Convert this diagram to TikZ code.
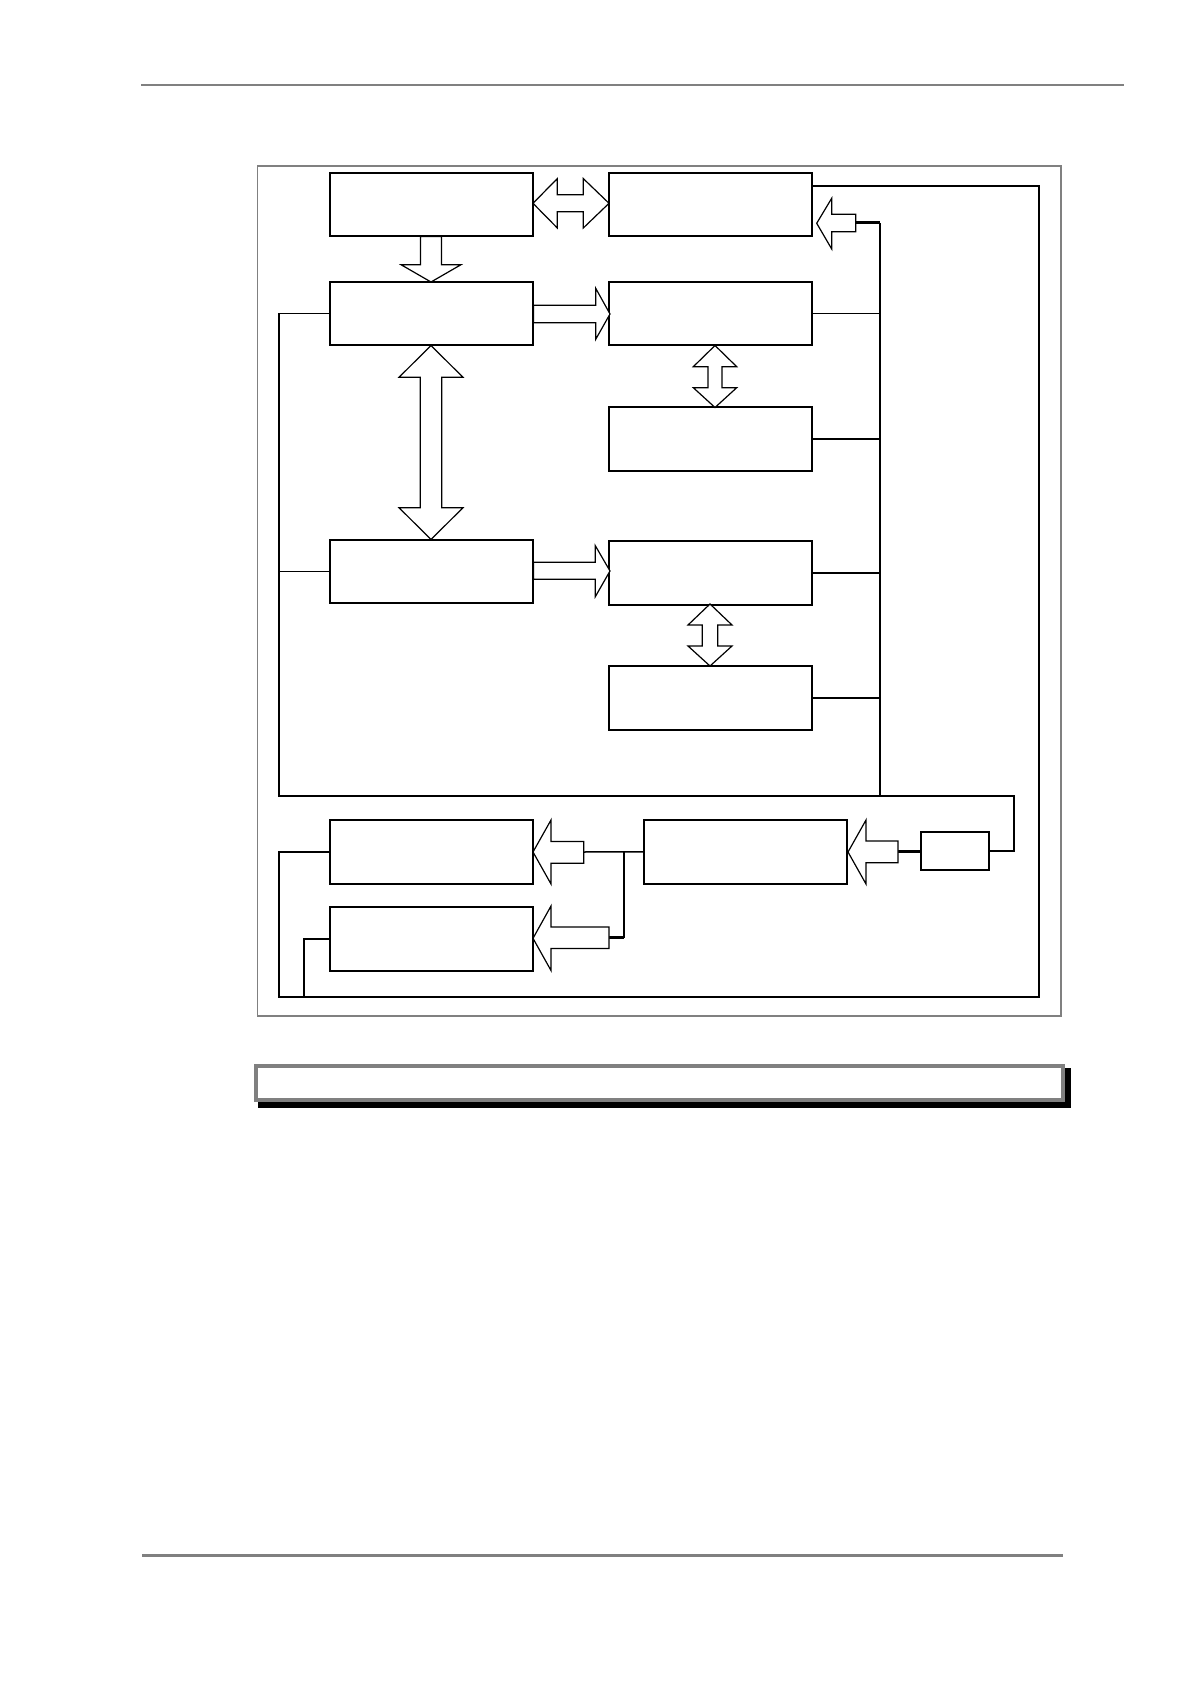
\documentclass[tikz,border=0pt]{standalone}
\usepackage{amsmath}
\usepackage{amssymb}
\usepackage{tikz}

\definecolor{rulegray}{RGB}{128,128,128}

\tikzset{
  blk/.style={draw, line width=1pt, minimum width=101.5pt, minimum height=31.75pt, inner sep=0pt, outer sep=0pt, anchor=north west},
  smallblk/.style={draw, line width=1pt, minimum width=34pt, minimum height=19pt, inner sep=0pt, outer sep=0pt, anchor=north west},
  wire/.style={line width=0.75pt},
  thickwire/.style={line width=1.5pt},
  barrow/.style={draw, fill=white, line width=0.6pt, line join=miter}
}

\begin{document}
\begin{tikzpicture}[x=0.5pt,y=0.5pt,yscale=-1,xscale=1]
\useasboundingbox (0,0) rectangle (1191,1684);

%Header and footer rules
\draw[rulegray, line width=1.35pt] (141,85) -- (1124,85) ;
\draw[rulegray, line width=1.35pt] (142,1555.5) -- (1063,1555.5) ;

%Frame
\draw[rulegray, line width=0.6pt] (257.4,166) rectangle (1061,1016) ;

%Blocks
\node[blk] (A) at (330,173) {};
\node[blk] (B) at (609,173) {};
\node[blk] (C) at (330,282) {};
\node[blk] (D) at (609,282) {};
\node[blk] (E) at (609,407.5) {};
\node[blk] (F) at (330,539.5) {};
\node[blk] (G) at (609,541) {};
\node[blk] (H) at (609,666) {};
\node[blk] (I) at (330,820) {};
\node[blk] (J) at (330,907) {};
\node[blk] (K) at (644,820) {};
\node[smallblk] (L) at (921,832) {};

%Bus corners
\coordinate (rtop) at (1039,186);
\coordinate (rbot) at (1039,997);
\coordinate (lbot) at (279,997);
\coordinate (jbot) at (304,997);
\coordinate (lcor) at (279,796);
\coordinate (rcor) at (1014,796);
\coordinate (rb) at (880,796);
\coordinate (rbtop) at (880,223);
\coordinate (bin) at (855.7,223);
\coordinate (kin) at (898,851);
\coordinate (iin) at (583.7,852);
\coordinate (split) at (624,852);
\coordinate (jin) at (609,937.5);

%Straight Lines
\draw[wire] (B.east |- rtop) -- (rtop) -- (rbot) -- (lbot) |- (I.west) ;
%Straight Lines
\draw[wire] (J.west) -| (jbot) ;
%Straight Lines
\draw[wire] (C.west) -| (lcor) -- (rcor) |- (L.east) ;
%Straight Lines
\draw[wire] (F.west) -- (F.west -| lcor) ;
%Straight Lines
\draw[wire] (rbtop) -- (rb) ;
\draw[wire] (D.east) -- (D.east -| rb) ;
\draw[wire] (E.east) -- (E.east -| rb) ;
\draw[wire] (G.east) -- (G.east -| rb) ;
\draw[wire] (H.east) -- (H.east -| rb) ;
%Straight Lines
\draw[thickwire] (bin) -- (rbtop) ;
\draw[thickwire] (kin) -- (L.west) ;
\draw[wire] (iin) -- (K.west) ;
\draw[wire] (split) -- (split |- jin) ;
\draw[thickwire] (jin) -- (split |- jin) ;

%Shape: Left Right Arrow
\draw[barrow] (533,203.3) -- (557.3,178.6) -- (557.3,194.8) -- (583.3,194.8) -- (583.3,178.6) -- (609,203.3) -- (583.3,228) -- (583.3,211.8) -- (557.3,211.8) -- (557.3,228) -- cycle ;
%Shape: Down Arrow
\draw[barrow] (420.5,236.5) -- (441.5,236.5) -- (441.5,264.7) -- (461,264.7) -- (431,282) -- (401,264.7) -- (420.5,264.7) -- cycle ;
%Shape: Right Arrow
\draw[barrow] (533.5,305.3) -- (595.7,305.3) -- (595.7,288.3) -- (610,314) -- (595.7,339.3) -- (595.7,322.7) -- (533.5,322.7) -- cycle ;
%Shape: Up Down Arrow
\draw[barrow] (431,345.5) -- (463,377.3) -- (441.7,377.3) -- (441.7,507.7) -- (463,507.7) -- (431,539.5) -- (399,507.7) -- (420.3,507.7) -- (420.3,377.3) -- (399,377.3) -- cycle ;
%Shape: Up Down Arrow
\draw[barrow] (715,345.5) -- (736.7,366.7) -- (722,366.7) -- (722,387.7) -- (736.7,387.7) -- (715,407.5) -- (693.3,387.7) -- (708,387.7) -- (708,366.7) -- (693.3,366.7) -- cycle ;
%Shape: Right Arrow
\draw[barrow] (533.5,562.3) -- (595.3,562.3) -- (595.3,545.7) -- (610,571) -- (595.3,596.7) -- (595.3,579.3) -- (533.5,579.3) -- cycle ;
%Shape: Up Down Arrow
\draw[barrow] (710,604) -- (732,625) -- (717.7,625) -- (717.7,646) -- (732,646) -- (710,666) -- (688,646) -- (702.3,646) -- (702.3,625) -- (688,625) -- cycle ;
%Shape: Left Arrow
\draw[barrow] (816.7,223.3) -- (831.7,198.3) -- (831.7,214.3) -- (855.7,214.3) -- (855.7,231.7) -- (831.7,231.7) -- (831.7,249) -- cycle ;
%Shape: Left Arrow
\draw[barrow] (848,852) -- (866,820) -- (866,841) -- (898,841) -- (898,862.7) -- (866,862.7) -- (866,884) -- cycle ;
%Shape: Left Arrow
\draw[barrow] (533,852) -- (551,820) -- (551,841.5) -- (583.7,841.5) -- (583.7,863.3) -- (551,863.3) -- (551,884) -- cycle ;
%Shape: Left Arrow
\draw[barrow] (533,938.3) -- (551,906) -- (551,927) -- (609,927) -- (609,948.5) -- (551,948.5) -- (551,970.5) -- cycle ;

%Caption box
\fill[black] (258,1068) rectangle (1070.7,1107.7) ;
\draw[rulegray, fill=white, line width=2pt] (256,1066.3) rectangle (1063,1099.7) ;

\end{tikzpicture}
\end{document}
